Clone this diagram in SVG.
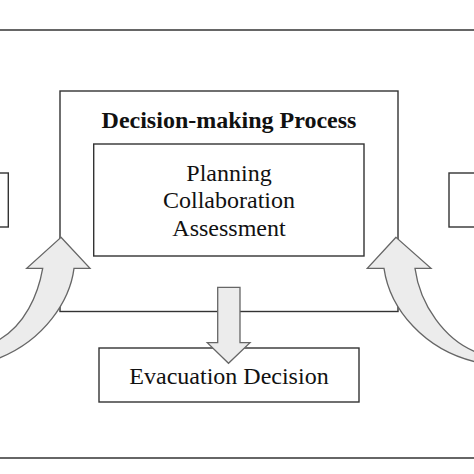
<svg xmlns="http://www.w3.org/2000/svg" width="474" height="474" viewBox="0 0 474 474">
<style>
.box{fill:none;stroke:#333;stroke-width:1.4}
.wbox{fill:#fff;stroke:#333;stroke-width:1.4}
.arr{fill:#ececec;stroke:#666;stroke-width:1.3;stroke-linejoin:miter}
.t{font-family:"Liberation Serif","Times New Roman",serif;font-size:24px;fill:#111;text-anchor:middle}
.b{font-weight:bold}
</style>
<rect width="474" height="474" fill="#fff"/>
<g id="frame">
<line class="box" x1="-2" y1="30" x2="476" y2="30"/>
<line class="box" x1="-2" y1="458" x2="476" y2="458"/>
</g>
<g id="left-box"><rect class="box" x="-20" y="173" width="28.3" height="54"/></g>
<g id="right-box"><rect class="box" x="449" y="173" width="40" height="54"/></g>
<g id="process">
<rect class="box" x="60" y="91" width="338" height="220.5"/>
<text class="t b" x="229" y="128">Decision-making Process</text>
</g>
<g id="activities">
<rect class="box" x="93.7" y="144" width="270.3" height="112"/>
<text class="t" x="229" y="181">Planning</text>
<text class="t" x="229" y="208">Collaboration</text>
<text class="t" x="229" y="236">Assessment</text>
</g>
<g id="evacuation">
<rect class="box" x="99" y="348" width="260" height="54"/>
<text class="t" x="229" y="384">Evacuation Decision</text>
</g>
<g id="connectors">
<path class="arr" d="M61,237.3 L90,268.3 L74,268.3 C70,300 45,340 -2,358.5 L-2,340.5 C25,325 38,295 42.7,268.3 L26.7,268.3 Z"/>
<path class="arr" d="M396,237.3 L367.3,268.3 L384,268.3 C390,310 425,350 476,362 L476,352 C445,340 420,305 415,268.3 L431,268.3 Z"/>
<path class="arr" d="M217.7,287.3 L240,287.3 L240,342.7 L250,342.7 L228.5,363.3 L207.3,342.7 L217.7,342.7 Z"/>
</g>
</svg>
